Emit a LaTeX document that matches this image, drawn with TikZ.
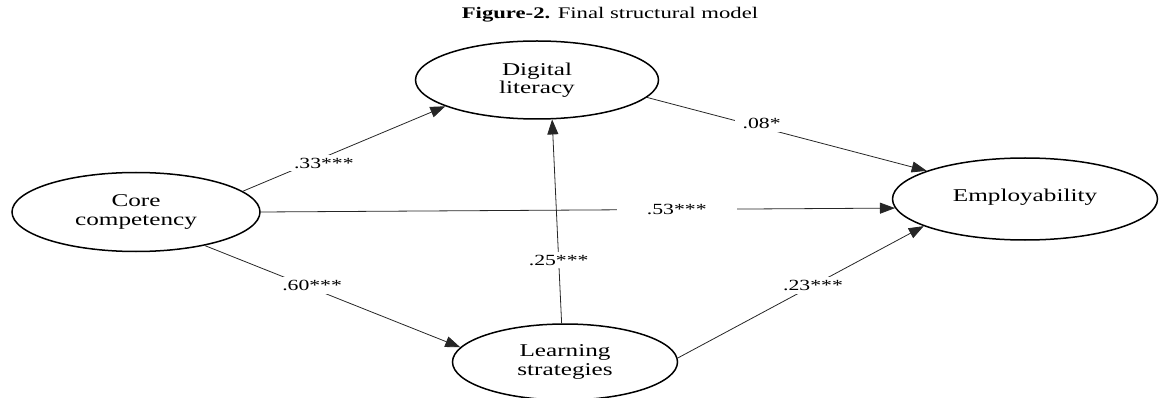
\documentclass[tikz,border=0pt]{standalone}
\usepackage{fontspec}
\setmainfont{Liberation Serif}[FakeStretch=1.4]
\usetikzlibrary{shapes.geometric,arrows.meta}
\begin{document}
\begin{tikzpicture}[x=1pt,y=-1pt,
  latent/.style={draw, ellipse, line width=1.5pt, inner sep=0pt, align=center,
    font=\fontsize{18}{18.5}\selectfont},
  path/.style={draw=black!85, line width=0.8pt, -{Triangle[length=15pt,width=11pt]}},
  coef/.style={fill=white, inner xsep=8pt, inner ysep=3pt, font=\fontsize{15.5}{18}\selectfont}]
\useasboundingbox (0,0) rectangle (1159,398);
\node (title) at (610,15) {\fontsize{16.2}{17}\selectfont\textbf{Figure-2.} Final structural model};
\node[latent, minimum width=248pt, minimum height=79pt] (core) at (136,212) {Core\\competency};
\node[latent, minimum width=243pt, minimum height=78pt] (dig) at (537,80) {Digital\\literacy};
\node[latent, minimum width=265pt, minimum height=82pt] (emp) at (1025,199) {\raisebox{7pt}{Employability}};
\node[latent, minimum width=225pt, minimum height=76pt] (learn) at (565,362) {Learning\\strategies};
\draw[path] (core.11) -- node[coef, pos=0.4, yshift=-6pt] (l33) {.33***} (dig.196);
\draw[path] (core.-26) -- node[coef, pos=0.42, yshift=3pt] (l60) {.60***} (learn.172);
\draw[path] (core.0) -- node[coef, pos=0.656, inner xsep=30pt] (l53) {.53***} (emp.184);
\draw[path] (learn.95) -- node[coef, pos=0.31] (l25) {.25***} (dig.-69);
\draw[path] (dig.-9.5) -- node[coef, pos=0.41, yshift=4pt] (l08) {.08*} (emp.164.6);
\draw[path] (learn.2) -- node[coef, pos=0.55] (l23) {.23***} (emp.195.6);
\end{tikzpicture}
\end{document}
